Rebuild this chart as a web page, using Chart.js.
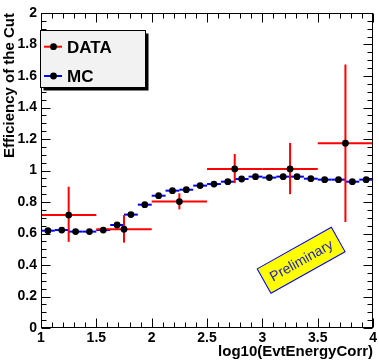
<!DOCTYPE html>
<html>
<head>
<meta charset="utf-8">
<script src="https://cdn.jsdelivr.net/npm/chart.js@4/dist/chart.umd.min.js"></script>
<style>
html,body{margin:0;padding:0;background:#ffffff;}
#wrap{width:379px;height:363px;position:relative;}
canvas{display:block;}
</style>
</head>
<body>
<div id="wrap"><canvas id="c" width="379" height="363"></canvas></div>
<script>
// ---- data ----
const dataX        = [1.25, 1.75, 2.25, 2.75, 3.25, 3.75];
const dataY        = [0.717, 0.627, 0.803, 1.010, 1.010, 1.173];
const dataErrUp    = [0.180, 0.090, 0.052, 0.095, 0.165, 0.500];
const dataErrDown  = [0.170, 0.085, 0.050, 0.090, 0.160, 0.500];
const dataHalfBin  = 0.25;

const mcX = [1.0625, 1.1875, 1.3125, 1.4375, 1.5625, 1.6875, 1.8125, 1.9375,
             2.0625, 2.1875, 2.3125, 2.4375, 2.5625, 2.6875, 2.8125, 2.9375,
             3.0625, 3.1875, 3.3125, 3.4375, 3.5625, 3.6875, 3.8125, 3.9375];
const mcY = [0.618, 0.622, 0.612, 0.612, 0.622, 0.654, 0.720, 0.783,
             0.840, 0.872, 0.878, 0.904, 0.914, 0.929, 0.946, 0.961,
             0.955, 0.961, 0.961, 0.948, 0.942, 0.942, 0.929, 0.942];
const mcHalfBin = 0.0625;

const seriesNames = ['DATA', 'MC'];
const xTitle = 'log10(EvtEnergyCorr)';
const yTitle = 'Efficiency of the Cut';
const stampText = 'Preliminary';
const xRange = [1, 4];
const yRange = [0, 2];
const xMajorStep = 0.5;
const yMajorStep = 0.2;

// ---- plugin: error bars ----
const errorBars = {
  id: 'errorBars',
  beforeDatasetsDraw(chart) {
    const ctx = chart.ctx;
    const xs = chart.scales.x, ys = chart.scales.y;
    ctx.save();
    chart.data.datasets.forEach(ds => {
      const e = ds.err;
      ctx.strokeStyle = ds.borderColor;
      ctx.lineWidth = 2;
      ctx.lineCap = 'butt';
      ds.data.forEach((p, i) => {
        const y = ys.getPixelForValue(p.y);
        ctx.beginPath();
        ctx.moveTo(xs.getPixelForValue(p.x - e.half), y);
        ctx.lineTo(xs.getPixelForValue(p.x + e.half), y);
        ctx.stroke();
        if (e.up) {
          const xp = xs.getPixelForValue(p.x);
          ctx.beginPath();
          ctx.moveTo(xp, ys.getPixelForValue(p.y + e.up[i]));
          ctx.lineTo(xp, ys.getPixelForValue(p.y - e.down[i]));
          ctx.stroke();
        }
      });
    });
    ctx.restore();
  }
};

// ---- plugin: ROOT-like frame, ticks, legend, stamp ----
const rootFrame = {
  id: 'rootFrame',
  afterDraw(chart) {
    const ctx = chart.ctx;
    const a = chart.chartArea;
    const xs = chart.scales.x, ys = chart.scales.y;
    ctx.save();
    ctx.strokeStyle = '#000';
    ctx.lineWidth = 1;
    // frame
    const L = Math.round(a.left) + 0.5, R = Math.round(a.right) - 0.5;
    const T = Math.round(a.top) + 0.5, B = Math.round(a.bottom) - 0.5;
    ctx.strokeRect(L, T, R - L, B - T);
    // ticks
    const maj = 9, mnr = 5;
    ctx.beginPath();
    for (let i = 10; i <= 40; i++) {
      const v = i / 10;
      const len = (i % 5 === 0) ? maj : mnr;
      const px = Math.round(xs.getPixelForValue(v)) + 0.5;
      ctx.moveTo(px, B); ctx.lineTo(px, B - len);
      ctx.moveTo(px, T); ctx.lineTo(px, T + len);
    }
    for (let i = 0; i <= 40; i++) {
      const v = i / 20;
      const len = (i % 4 === 0) ? maj : mnr;
      const py = Math.round(ys.getPixelForValue(v)) + 0.5;
      ctx.moveTo(L, py); ctx.lineTo(L + len, py);
      ctx.moveTo(R, py); ctx.lineTo(R - len, py);
    }
    ctx.stroke();

    // legend
    const bx = 40.5, by = 30.5, bw = 105, bh = 57;
    ctx.fillStyle = '#000';
    ctx.fillRect(bx + 3, by + 3, bw, bh);
    ctx.fillStyle = '#f2f2f2';
    ctx.fillRect(bx, by, bw, bh);
    ctx.strokeStyle = '#000';
    ctx.strokeRect(bx, by, bw, bh);
    const rows = [
      {ds: chart.data.datasets[1], y: 46.7, base: 52.7},
      {ds: chart.data.datasets[0], y: 76,   base: 82}
    ];
    rows.forEach(r => {
      ctx.strokeStyle = r.ds.borderColor;
      ctx.lineWidth = 2;
      ctx.beginPath();
      ctx.moveTo(44, r.y); ctx.lineTo(62, r.y);
      ctx.stroke();
      ctx.fillStyle = '#000';
      ctx.beginPath();
      ctx.arc(53.5, r.y, 3.4, 0, Math.PI * 2);
      ctx.fill();
      ctx.font = 'bold 17px "Liberation Sans", Arial, sans-serif';
      ctx.textAlign = 'left';
      ctx.textBaseline = 'alphabetic';
      ctx.fillText(r.ds.label, 67, r.base);
    });

    // Preliminary stamp
    const cx = xs.getPixelForValue(3.35), cy = ys.getPixelForValue(0.43);
    ctx.translate(cx, cy);
    ctx.rotate(-29.3 * Math.PI / 180);
    ctx.fillStyle = '#ffff00';
    ctx.fillRect(-42.5, -14, 85, 28);
    ctx.strokeStyle = '#0000ff';
    ctx.lineWidth = 1;
    ctx.strokeRect(-42.5, -14, 85, 28);
    ctx.fillStyle = '#2020c0';
    ctx.font = '14px "Liberation Sans", Arial, sans-serif';
    ctx.textAlign = 'center';
    ctx.textBaseline = 'middle';
    ctx.fillText(stampText, 0, 1);
    ctx.restore();
  }
};

const fmt = v => String(Number(v.toFixed(2)));

new Chart(document.getElementById('c'), {
  type: 'scatter',
  data: {
    datasets: [
      {
        label: seriesNames[1],
        data: mcX.map((x, i) => ({x, y: mcY[i]})),
        borderColor: '#0000ff',
        backgroundColor: '#000',
        pointBackgroundColor: '#000',
        pointBorderColor: '#000',
        pointBorderWidth: 0,
        pointRadius: 3.4,
        showLine: false,
        err: {half: mcHalfBin}
      },
      {
        label: seriesNames[0],
        data: dataX.map((x, i) => ({x, y: dataY[i]})),
        borderColor: '#ff0000',
        backgroundColor: '#000',
        pointBackgroundColor: '#000',
        pointBorderColor: '#000',
        pointBorderWidth: 0,
        pointRadius: 3.4,
        showLine: false,
        err: {half: dataHalfBin, up: dataErrUp, down: dataErrDown}
      }
    ]
  },
  options: {
    responsive: false,
    animation: false,
    devicePixelRatio: 1,
    layout: {padding: {top: 13, right: 4, left: 0, bottom: 0}},
    plugins: {legend: {display: false}, tooltip: {enabled: false}},
    scales: {
      x: {
        type: 'linear', position: 'bottom',
        min: xRange[0], max: xRange[1],
        grid: {display: false, drawTicks: false},
        border: {display: false},
        ticks: {
          stepSize: xMajorStep, autoSkip: false, maxRotation: 0,
          color: '#000', padding: 2,
          font: {family: '"Liberation Sans", Arial, sans-serif', size: 14, weight: 'bold'},
          callback: v => fmt(v)
        },
        title: {
          display: true, text: xTitle, align: 'end', color: '#000',
          font: {family: '"Liberation Sans", Arial, sans-serif', size: 15, weight: 'bold'},
          padding: {top: 0, bottom: 2}
        },
        afterFit: s => { s.height = 35; }
      },
      y: {
        type: 'linear', position: 'left',
        min: yRange[0], max: yRange[1],
        grid: {display: false, drawTicks: false},
        border: {display: false},
        ticks: {
          stepSize: yMajorStep, autoSkip: false,
          color: '#000', padding: 4,
          font: {family: '"Liberation Sans", Arial, sans-serif', size: 14, weight: 'bold'},
          callback: v => fmt(v)
        },
        title: {
          display: true, text: yTitle, align: 'end', color: '#000',
          font: {family: '"Liberation Sans", Arial, sans-serif', size: 15, weight: 'bold'},
          padding: {top: 1, bottom: 0}
        },
        afterFit: s => { s.width = 41; }
      }
    }
  },
  plugins: [errorBars, rootFrame]
});
</script>
</body>
</html>
